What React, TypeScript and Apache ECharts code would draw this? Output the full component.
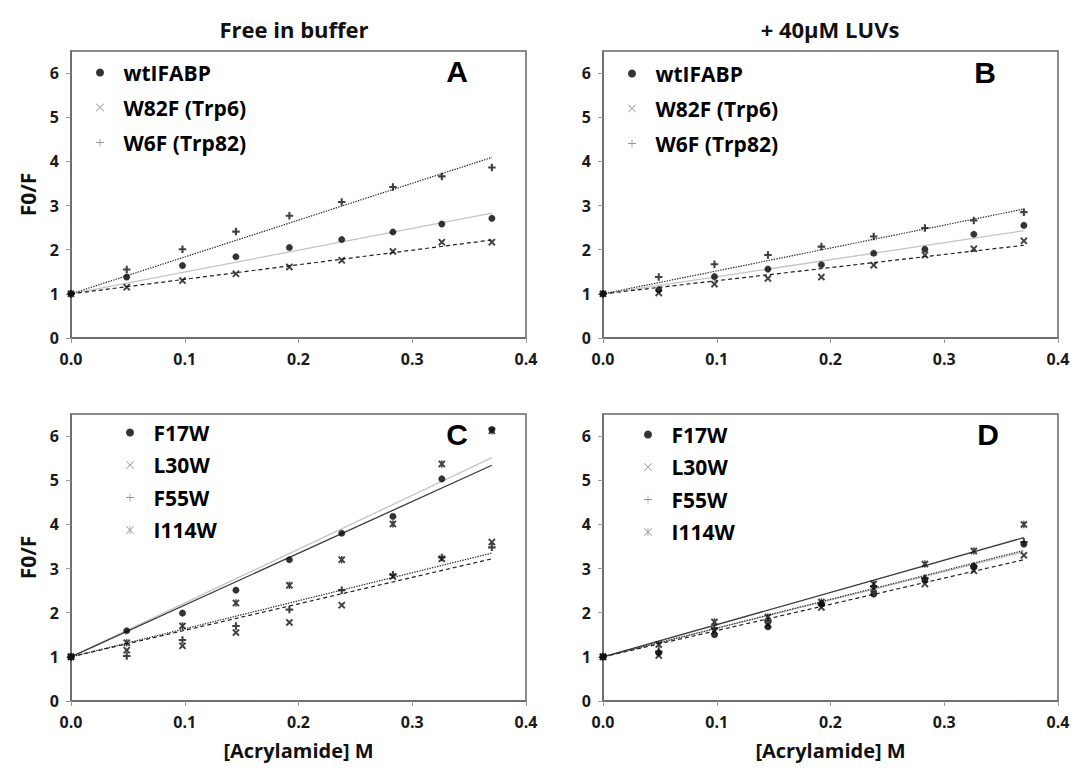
import React, { useEffect, useRef } from "react";
import * as echarts from "echarts";

// ---------- data ----------
const acrylamide = [0, 0.049, 0.098, 0.145, 0.192, 0.238, 0.283, 0.326, 0.37];
const fitIntercept = 1;
const fitXEnd = 0.37;

const namesAB = ["wtIFABP", "W82F (Trp6)", "W6F (Trp82)"];
const namesCD = ["F17W", "L30W", "F55W", "I114W"];

// Panel A – free in buffer
const wtA = [1, 1.38, 1.64, 1.84, 2.05, 2.23, 2.4, 2.58, 2.71];
const w82fA = [1, 1.15, 1.3, 1.455, 1.61, 1.76, 1.96, 2.17, 2.17];
const w6fA = [1, 1.55, 2.01, 2.41, 2.77, 3.08, 3.42, 3.66, 3.86];
const fitEndA = [2.83, 2.22, 4.09];

// Panel B – + 40µM LUVs
const wtB = [1, 1.09, 1.39, 1.56, 1.66, 1.92, 2.01, 2.35, 2.55];
const w82fB = [1, 1.02, 1.22, 1.35, 1.38, 1.65, 1.88, 2.02, 2.2];
const w6fB = [1, 1.38, 1.67, 1.88, 2.07, 2.3, 2.49, 2.66, 2.85];
const fitEndB = [2.43, 2.1, 2.92];

// Panel C – free in buffer
const f17wC = [1, 1.59, 1.99, 2.51, 3.2, 3.8, 4.18, 5.03, 6.15];
const l30wC = [1, 1.15, 1.25, 1.55, 1.78, 2.17, 2.82, 3.22, 3.6];
const f55wC = [1, 1.02, 1.38, 1.7, 2.07, 2.51, 2.86, 3.25, 3.48];
const i114wC = [1, 1.32, 1.7, 2.22, 2.62, 3.2, 4.01, 5.37, 6.12];
const fitEndC = [5.51, 3.22, 3.35, 5.34];

// Panel D – + 40µM LUVs
const f17wD = [1, 1.09, 1.5, 1.68, 2.2, 2.42, 2.75, 3.05, 3.55];
const l30wD = [1, 1.03, 1.58, 1.72, 2.12, 2.54, 2.65, 2.95, 3.3];
const f55wD = [1, 1.12, 1.65, 1.81, 2.2, 2.6, 2.78, 3.05, 3.6];
const i114wD = [1, 1.28, 1.79, 1.9, 2.24, 2.65, 3.1, 3.4, 4.0];
const fitEndD = [3.38, 3.2, 3.41, 3.7];

const yTicks = [0, 1, 2, 3, 4, 5, 6];
const xTicks = [0, 0.1, 0.2, 0.3, 0.4];
const columnTitles = ["Free in buffer", "+ 40µM LUVs"];
const panelLetters = ["A", "B", "C", "D"];
const xAxisTitle = "[Acrylamide] M";
const yAxisTitle = "F0/F";

// ---------- symbols ----------
const PLUS_BOLD = "path://M3.6,0H6.4V3.6H10V6.4H6.4V10H3.6V6.4H0V3.6H3.6Z";
const X_BOLD =
  "path://M0,1.8L1.8,0L5,3.2L8.2,0L10,1.8L6.8,5L10,8.2L8.2,10L5,6.8L1.8,10L0,8.2L3.2,5Z";
const STAR_BOLD =
  "path://M0,1.8L1.8,0L5,3.2L8.2,0L10,1.8L6.8,5L10,8.2L8.2,10L5,6.8L1.8,10L0,8.2L3.2,5ZM4.1,0H5.9V10H4.1Z";
const PLUS_THIN = "path://M4.5,0H5.5V4.5H10V5.5H5.5V10H4.5V5.5H0V4.5H4.5Z";
const X_THIN =
  "path://M0,0.7L0.7,0L5,4.3L9.3,0L10,0.7L5.7,5L10,9.3L9.3,10L5,5.7L0.7,10L0,9.3L4.3,5Z";
const STAR_THIN =
  "path://M0,0.7L0.7,0L5,4.3L9.3,0L10,0.7L5.7,5L10,9.3L9.3,10L5,5.7L0.7,10L0,9.3L4.3,5ZM4.6,0H5.4V10H4.6Z";

const FONT = "'Open Sans', 'Liberation Sans', sans-serif";
const AXIS_COLOR = "#666666";

const lineStyles = {
  gray: { color: "#c4c4c4", width: 1.3, type: "solid" },
  dashed: { color: "#1e1e1e", width: 1.2, type: [4, 3] },
  dotted: { color: "#2a2a2a", width: 1.2, type: [1.4, 1.2] },
  dark: { color: "#3a3a3a", width: 1.3, type: "solid" },
};

const grids = [
  { left: 71, top: 51, width: 455, height: 287 },
  { left: 603, top: 51, width: 455, height: 287 },
  { left: 71, top: 414, width: 455, height: 287 },
  { left: 603, top: 414, width: 455, height: 287 },
];

type PanelDef = {
  names: string[];
  values: number[][];
  fitEnds: number[];
  markers: string[];
  lines: any[];
};

const panels: PanelDef[] = [
  {
    names: namesAB,
    values: [wtA, w82fA, w6fA],
    fitEnds: fitEndA,
    markers: ["circle", X_BOLD, PLUS_BOLD],
    lines: [lineStyles.gray, lineStyles.dashed, lineStyles.dotted],
  },
  {
    names: namesAB,
    values: [wtB, w82fB, w6fB],
    fitEnds: fitEndB,
    markers: ["circle", X_BOLD, PLUS_BOLD],
    lines: [lineStyles.gray, lineStyles.dashed, lineStyles.dotted],
  },
  {
    names: namesCD,
    values: [f17wC, l30wC, f55wC, i114wC],
    fitEnds: fitEndC,
    markers: ["circle", X_BOLD, PLUS_BOLD, STAR_BOLD],
    lines: [lineStyles.gray, lineStyles.dashed, lineStyles.dotted, lineStyles.dark],
  },
  {
    names: namesCD,
    values: [f17wD, l30wD, f55wD, i114wD],
    fitEnds: fitEndD,
    markers: ["circle", X_BOLD, PLUS_BOLD, STAR_BOLD],
    lines: [lineStyles.gray, lineStyles.dashed, lineStyles.dotted, lineStyles.dark],
  },
];

const legendIcons = ["circle", X_THIN, PLUS_THIN, STAR_THIN];
const legendPos = [
  { left: 96, top: 62, gap: 14 },
  { left: 628, top: 63, gap: 14 },
  { left: 126, top: 422, gap: 11.5 },
  { left: 644, top: 424, gap: 11.5 },
];
const letterPos = [
  [457, 71],
  [985, 72],
  [457, 434],
  [988, 434],
];

function buildOption() {
  const series: any[] = [];
  panels.forEach((p, g) => {
    p.names.forEach((name, k) => {
      series.push({
        type: "line",
        name: `fit-${g}-${k}`,
        xAxisIndex: g,
        yAxisIndex: g,
        data: [
          [0, fitIntercept],
          [fitXEnd, p.fitEnds[k]],
        ],
        symbol: "none",
        lineStyle: p.lines[k],
        silent: true,
        z: 2,
      });
    });
    p.names.forEach((name, k) => {
      const isDot = p.markers[k] === "circle";
      series.push({
        type: "scatter",
        name,
        xAxisIndex: g,
        yAxisIndex: g,
        data: acrylamide.map((x, i) => [x, p.values[k][i]]),
        symbol: p.markers[k],
        symbolSize: isDot ? 6.5 : 7.5,
        itemStyle: isDot
          ? { color: "#000", borderColor: "rgba(0,0,0,0.35)", borderWidth: 1 }
          : { color: "#111" },
        z: 3,
      });
    });
  });

  const legend = panels.map((p, g) => ({
    orient: "vertical",
    left: legendPos[g].left,
    top: legendPos[g].top,
    padding: 0,
    itemGap: legendPos[g].gap,
    itemWidth: 37,
    itemHeight: 8,
    selectedMode: false,
    textStyle: {
      fontFamily: FONT,
      fontWeight: "bold",
      fontSize: 21,
      lineHeight: 21,
      color: "#000",
    },
    data: p.names.map((name, k) => ({
      name,
      icon: legendIcons[k],
      itemStyle: { color: k === 0 ? "#000" : "#7a7a7a", borderWidth: 0 },
    })),
  }));

  const xAxis = grids.map((_, g) => ({
    type: "value",
    gridIndex: g,
    min: 0,
    max: 0.4,
    interval: 0.1,
    name: g >= 2 ? xAxisTitle : "",
    nameLocation: "middle",
    nameGap: 39,
    nameTextStyle: { fontFamily: FONT, fontWeight: "bold", fontSize: 20, color: "#111" },
    axisLine: { show: true, lineStyle: { color: AXIS_COLOR, width: 1.5 } },
    axisTick: { show: true, length: 5, lineStyle: { color: "#999", width: 1 }, customValues: xTicks },
    splitLine: { show: false },
    axisLabel: {
      margin: 13,
      fontFamily: FONT,
      fontWeight: "bold",
      fontSize: 16,
      color: "#1a1a1a",
      customValues: xTicks,
      formatter: (v: number) => v.toFixed(1),
    },
  }));

  const yAxis = grids.map((_, g) => ({
    type: "value",
    gridIndex: g,
    min: 0,
    max: 6.5,
    interval: 1,
    name: g % 2 === 0 ? yAxisTitle : "",
    nameLocation: "middle",
    nameGap: 33,
    nameRotate: 90,
    nameTextStyle: { fontFamily: FONT, fontWeight: "bold", fontSize: 21, color: "#111" },
    axisLine: { show: true, lineStyle: { color: AXIS_COLOR, width: 1.5 } },
    axisTick: { show: true, length: 5, lineStyle: { color: "#999", width: 1 }, customValues: yTicks },
    splitLine: { show: false },
    axisLabel: {
      margin: 12,
      fontFamily: FONT,
      fontWeight: "bold",
      fontSize: 16,
      color: "#1a1a1a",
      customValues: yTicks,
      formatter: (v: number) => String(v),
    },
  }));

  const graphic: any[] = [];
  columnTitles.forEach((t, i) => {
    graphic.push({
      type: "text",
      x: i === 0 ? 294 : 830,
      y: 29,
      style: {
        text: t,
        fontFamily: FONT,
        fontWeight: "bold",
        fontSize: 22,
        fill: "#111",
        textAlign: "center",
        textVerticalAlign: "middle",
      },
    });
  });
  panelLetters.forEach((l, i) => {
    graphic.push({
      type: "text",
      x: letterPos[i][0],
      y: letterPos[i][1],
      style: {
        text: l,
        fontFamily: "'Liberation Sans', Arial, sans-serif",
        fontWeight: "bold",
        fontSize: 30,
        fill: "#000",
        textAlign: "center",
        textVerticalAlign: "middle",
      },
    });
  });

  return {
    animation: false,
    backgroundColor: "#fff",
    grid: grids.map((g) => ({
      ...g,
      show: true,
      borderColor: AXIS_COLOR,
      borderWidth: 1.5,
      backgroundColor: "transparent",
    })),
    xAxis,
    yAxis,
    legend,
    series,
    graphic,
  };
}

export default function App() {
  const ref = useRef<HTMLDivElement>(null);
  useEffect(() => {
    if (!ref.current) return;
    const chart = echarts.init(ref.current, undefined, { renderer: "svg" });
    chart.setOption(buildOption() as any);
    return () => chart.dispose();
  }, []);
  return (
    <div
      ref={ref}
      style={{ position: "absolute", left: 0, top: 0, width: 1075, height: 772, background: "#fff" }}
    />
  );
}
